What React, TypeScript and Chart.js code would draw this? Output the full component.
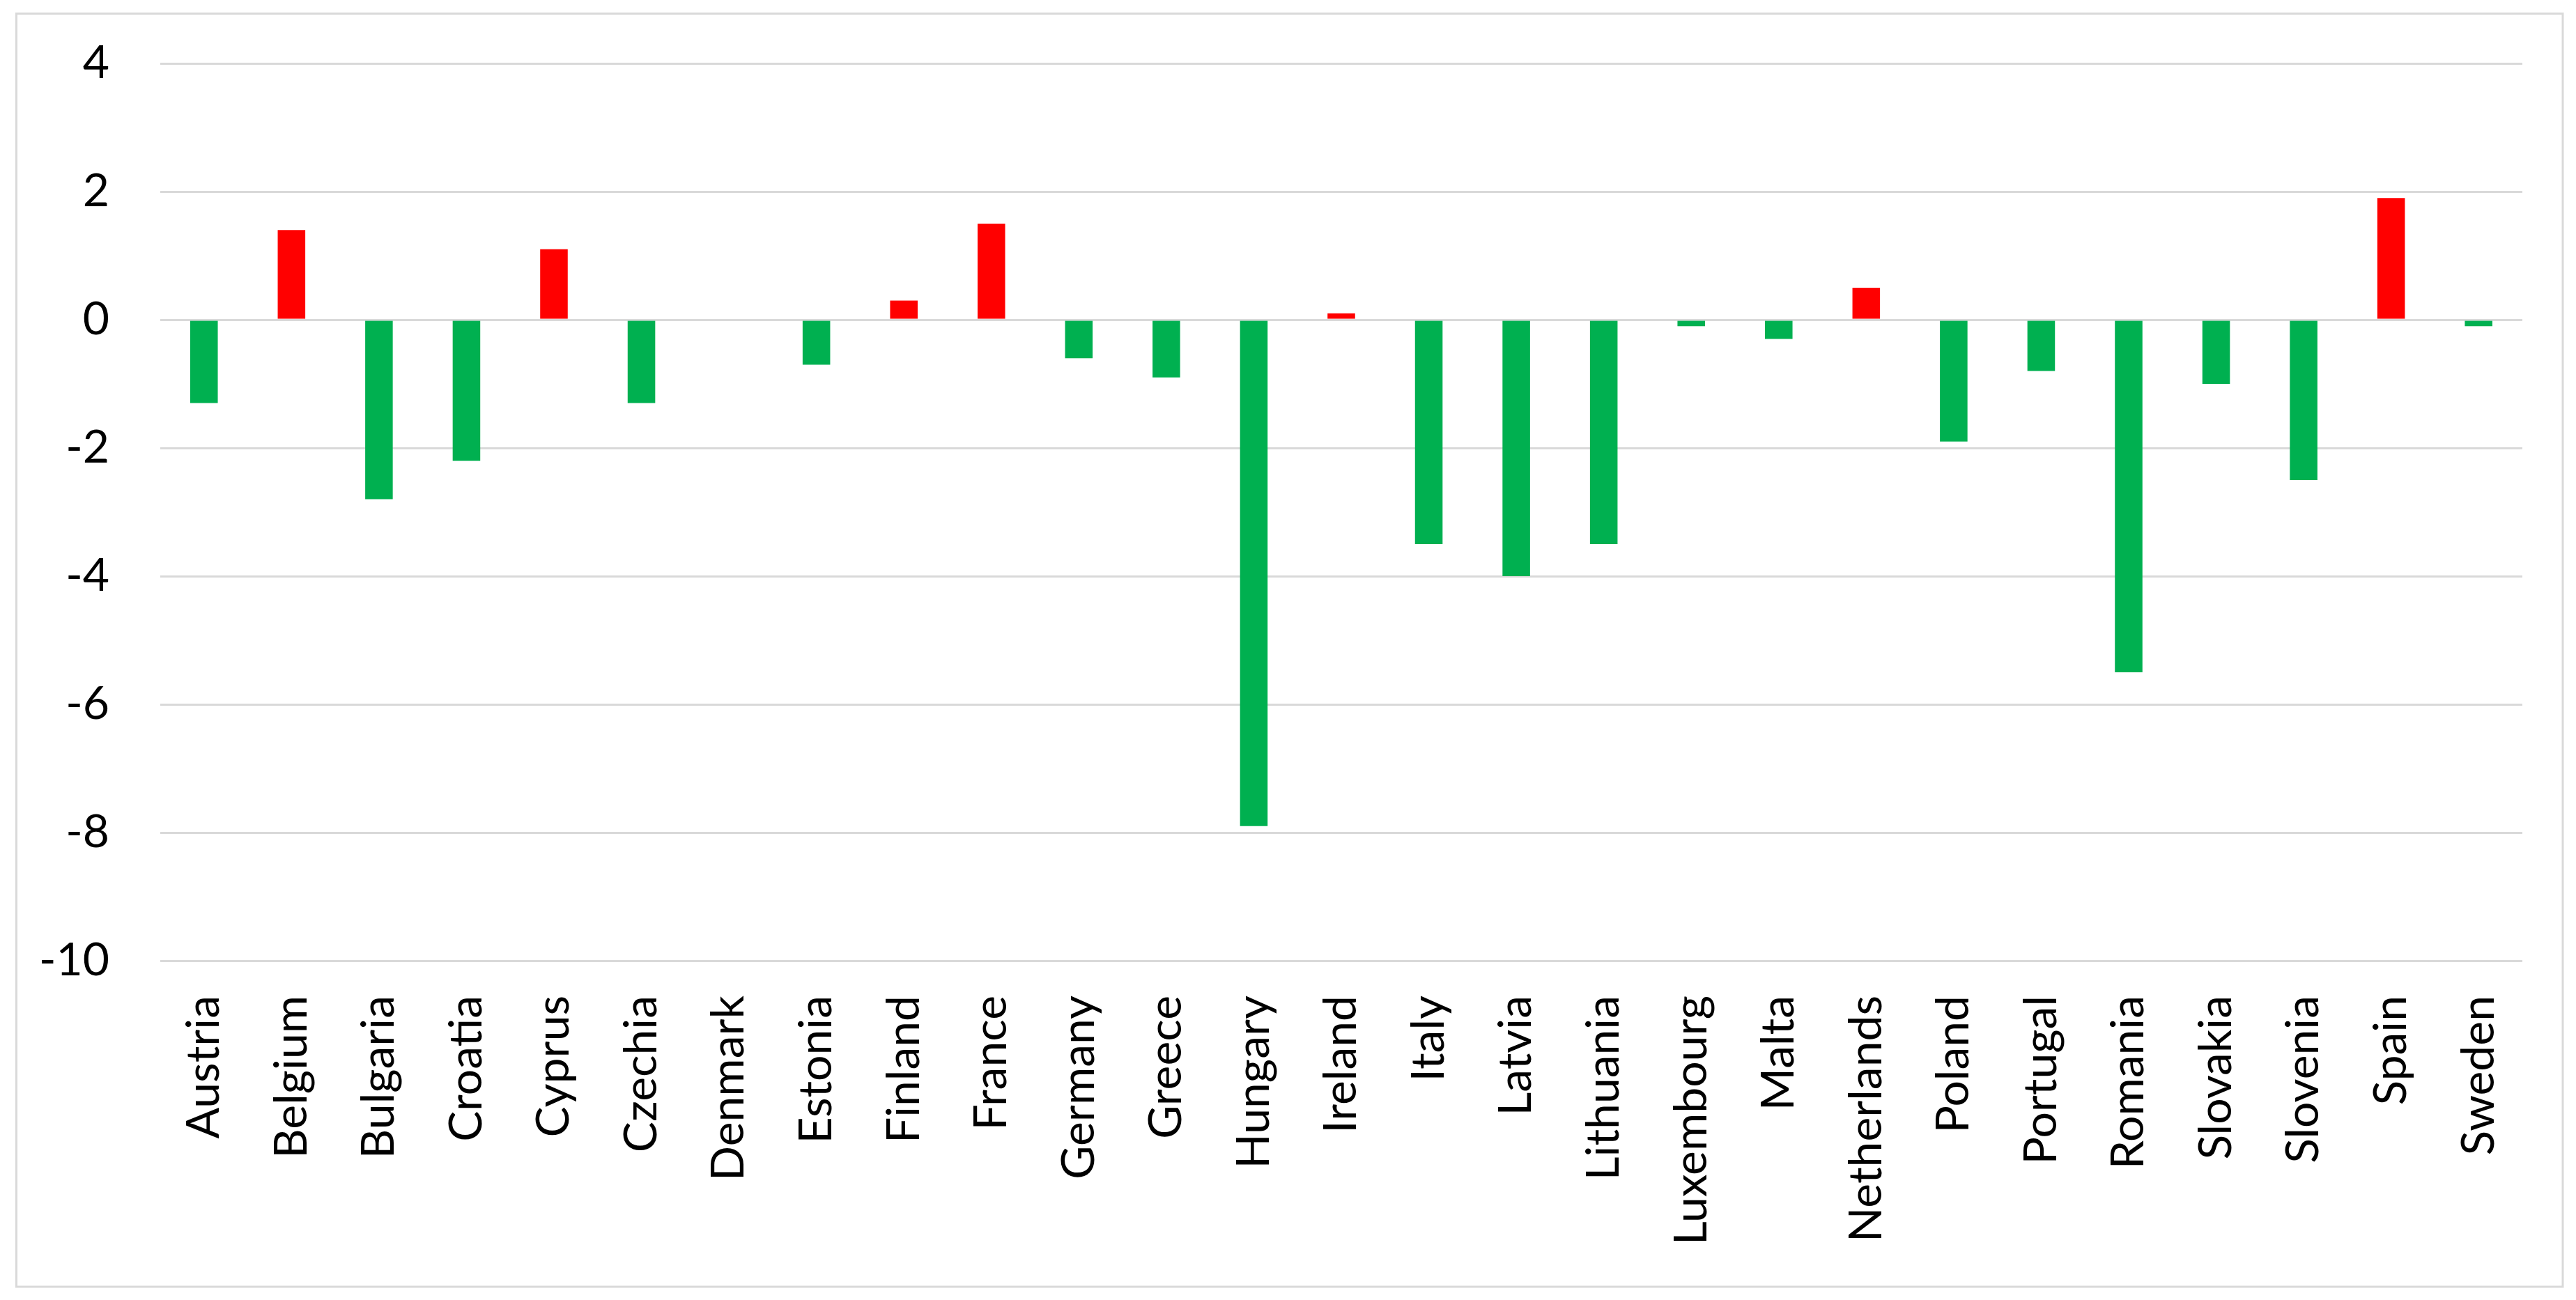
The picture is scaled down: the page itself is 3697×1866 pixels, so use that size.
import { useEffect, useRef } from "react";
import { Chart, registerables } from "chart.js";

Chart.register(...registerables);

const countries = [
  "Austria", "Belgium", "Bulgaria", "Croatia", "Cyprus", "Czechia", "Denmark",
  "Estonia", "Finland", "France", "Germany", "Greece", "Hungary", "Ireland",
  "Italy", "Latvia", "Lithuania", "Luxembourg", "Malta", "Netherlands", "Poland",
  "Portugal", "Romania", "Slovakia", "Slovenia", "Spain", "Sweden",
];

const changes = [
  -1.3, 1.4, -2.8, -2.2, 1.1, -1.3, 0,
  -0.7, 0.3, 1.5, -0.6, -0.9, -7.9, 0.1,
  -3.5, -4.0, -3.5, -0.1, -0.3, 0.5, -1.9,
  -0.8, -5.5, -1.0, -2.5, 1.9, -0.1,
];

const yMin = -10;
const yMax = 4;
const yStep = 2;

const POS_COLOR = "#FF0000";
const NEG_COLOR = "#00B050";
const GRID_COLOR = "#D9D9D9";
const FONT = "Lato, 'Open Sans', sans-serif";

const W = 3697;
const H = 1866;

const frame = {
  id: "frame",
  beforeDraw(chart: any) {
    const ctx = chart.ctx;
    ctx.save();
    ctx.fillStyle = "#FFFFFF";
    ctx.fillRect(0, 0, chart.width, chart.height);
    ctx.strokeStyle = GRID_COLOR;
    ctx.lineWidth = 3;
    ctx.strokeRect(23.5, 19.5, 3678 - 23.5, 1847 - 19.5);
    ctx.restore();
  },
};

export default function App() {
  const ref = useRef<HTMLCanvasElement>(null);

  useEffect(() => {
    document.body.style.margin = "0";
    const chart = new Chart(ref.current!, {
      type: "bar",
      data: {
        labels: countries,
        datasets: [
          {
            data: changes,
            backgroundColor: changes.map((v) => (v >= 0 ? POS_COLOR : NEG_COLOR)),
            borderWidth: 0,
            categoryPercentage: 1,
            barPercentage: 0.315,
          },
        ],
      },
      options: {
        responsive: false,
        animation: false,
        devicePixelRatio: 1,
        layout: { padding: { left: 0, top: 91, right: 77, bottom: 0 } },
        plugins: {
          legend: { display: false },
          tooltip: { enabled: false },
        },
        scales: {
          x: {
            grid: { display: false, drawTicks: false },
            border: { display: false },
            ticks: {
              autoSkip: false,
              minRotation: 90,
              maxRotation: 90,
              padding: 50,
              color: "#000000",
              font: { family: FONT, size: 66 },
            },
            afterFit(scale: any) {
              scale.height = H - 1379;
              scale.paddingLeft = 0;
              scale.paddingRight = 0;
            },
          },
          y: {
            min: yMin,
            max: yMax,
            ticks: {
              stepSize: yStep,
              padding: 73,
              color: "#000000",
              font: { family: FONT, size: 66 },
            },
            grid: { color: GRID_COLOR, lineWidth: 3, drawTicks: false, tickLength: 0 },
            border: { display: false },
            afterFit(scale: any) {
              scale.width = 230;
              scale.paddingTop = 0;
              scale.paddingBottom = 0;
            },
          },
        },
      },
      plugins: [frame],
    });
    return () => chart.destroy();
  }, []);

  return (
    <div style={{ width: W, height: H, position: "relative" }}>
      <canvas ref={ref} width={W} height={H} style={{ display: "block", width: W, height: H }} />
    </div>
  );
}
